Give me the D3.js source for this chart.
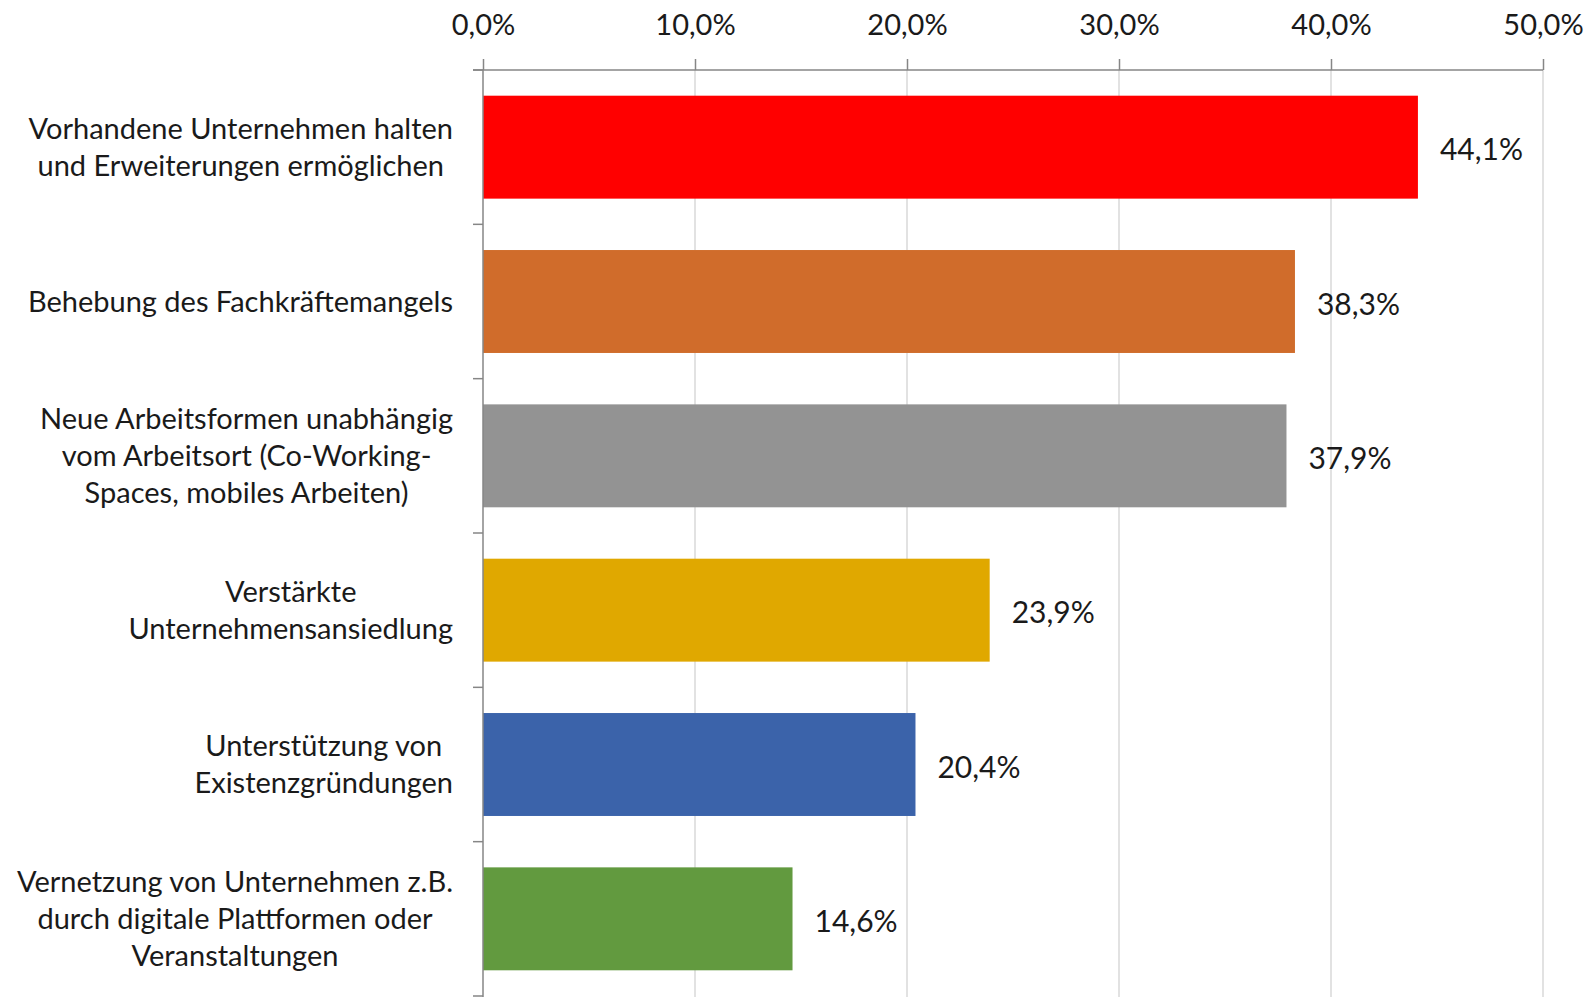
<!DOCTYPE html>
<html>
<head>
<meta charset="utf-8">
<script src="https://cdn.jsdelivr.net/npm/d3@7"></script>
<style>
  html, body { margin: 0; padding: 0; background: #fff; }
  svg { display: block; }
  text { font-family: Lato, "Open Sans", sans-serif; fill: #1a1a1a; }
</style>
</head>
<body>
<svg id="chart" width="1596" height="997"></svg>
<script>
const categories = [
  ["Vorhandene Unternehmen halten", "und Erweiterungen ermöglichen"],
  ["Behebung des Fachkräftemangels"],
  ["Neue Arbeitsformen unabhängig", "vom Arbeitsort (Co-Working-", "Spaces, mobiles Arbeiten)"],
  ["Verstärkte", "Unternehmensansiedlung"],
  ["Unterstützung von", "Existenzgründungen"],
  ["Vernetzung von Unternehmen z.B.", "durch digitale Plattformen oder", "Veranstaltungen"]
];
const values = [44.1, 38.3, 37.9, 23.9, 20.4, 14.6];
const colors = ["#FF0000", "#D06C2B", "#939393", "#E0A800", "#3B63AA", "#629A3F"];
const tickValues = [0, 10, 20, 30, 40, 50];

const fmt = v => v.toFixed(1).replace(".", ",") + "%";
const svg = d3.select("#chart");
const plotL = 483, plotR = 1543, plotT = 70, plotB = 996;
const fontSize = 29;

const x = d3.scaleLinear().domain([0, 50]).range([plotL, plotR]);
const y = d3.scaleBand().domain(d3.range(categories.length)).range([plotT, plotB])
  .paddingInner(0.333).paddingOuter(0.1665);

// gridlines
svg.append("g").selectAll("line").data(tickValues.slice(1)).join("line")
  .attr("x1", d => x(d)).attr("x2", d => x(d))
  .attr("y1", plotT).attr("y2", plotB + 2)
  .attr("stroke", "#d9d9d9").attr("stroke-width", 1.5);

// bars
svg.append("g").selectAll("rect").data(values).join("rect")
  .attr("x", x(0))
  .attr("y", (d, i) => y(i))
  .attr("width", d => x(d) - x(0))
  .attr("height", y.bandwidth())
  .attr("fill", (d, i) => colors[i]);

// top axis
const xAxis = d3.axisTop(x).tickValues(tickValues).tickFormat(d => fmt(d))
  .tickSizeInner(11).tickSizeOuter(0).tickPadding(24);
const gx = svg.append("g").attr("transform", `translate(0,${plotT})`).call(xAxis);
gx.select(".domain").attr("stroke", "#868686").attr("stroke-width", 1.5)
  .attr("d", `M${plotL - 10},0H${plotR}`);
gx.selectAll(".tick line").attr("stroke", "#868686").attr("stroke-width", 1.5);
gx.selectAll(".tick text").attr("font-size", fontSize).attr("fill", "#1a1a1a")
  .attr("font-family", "Lato, 'Open Sans', sans-serif");

// left category axis line + ticks at band boundaries
const step = y.step();
svg.append("line").attr("x1", plotL).attr("x2", plotL).attr("y1", plotT).attr("y2", plotB + 2)
  .attr("stroke", "#868686").attr("stroke-width", 1.5);
svg.append("g").selectAll("line").data(d3.range(categories.length + 1)).join("line")
  .attr("x1", plotL - 10).attr("x2", plotL)
  .attr("y1", i => plotT + i * step).attr("y2", i => plotT + i * step)
  .attr("stroke", "#868686").attr("stroke-width", 1.5);

// category labels (lines centered, block right-aligned)
const labelRight = 453, lineH = 37;
categories.forEach((lines, i) => {
  const cy = y(i) + y.bandwidth() / 2;
  const t = svg.append("text").attr("font-size", fontSize).attr("text-anchor", "middle");
  lines.forEach((ln, j) => {
    t.append("tspan").attr("x", 0)
      .attr("y", cy + (j - (lines.length - 1) / 2) * lineH + 10)
      .text(ln);
  });
  const w = t.node().getBBox().width;
  t.attr("transform", `translate(${labelRight - w / 2},0)`);
});

// value labels
svg.append("g").selectAll("text").data(values).join("text")
  .attr("x", d => x(d) + 22)
  .attr("y", (d, i) => y(i) + y.bandwidth() / 2 + 13)
  .attr("font-size", fontSize + 1)
  .text(d => fmt(d));
</script>
</body>
</html>
